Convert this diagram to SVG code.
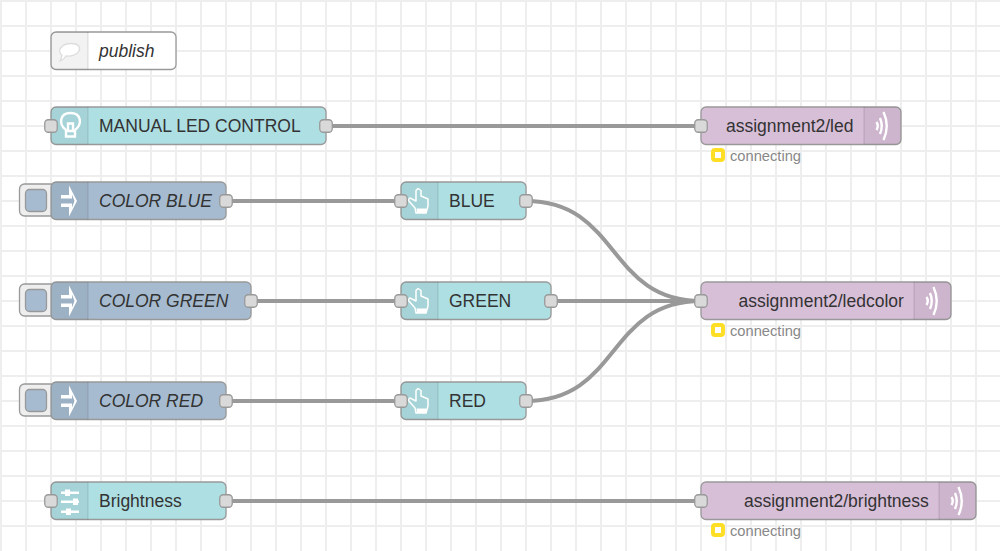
<svg xmlns="http://www.w3.org/2000/svg" width="1000" height="551" viewBox="0 0 1000 551">
<style>
text{font-family:"Liberation Sans",Arial,sans-serif;font-size:17.500px;fill:#333}
.grid{stroke:#eee;stroke-width:2;fill:none}
.wire{stroke:#999;stroke-width:4;fill:none}
.n{stroke:#999;stroke-width:1.3}
.inject{fill:#a6bbcf}.ui{fill:#aedfe3}.mqtt{fill:#d8bfd8}.cmt{fill:#fff}
.shade{fill:#000;fill-opacity:.05}
.sep{stroke:#000;stroke-opacity:.1;stroke-width:1.3}
.port{fill:#d9d9d9;stroke:#999;stroke-width:1.3}
.ic{fill:none;stroke:#fff;stroke-width:1.500;stroke-linejoin:round}
.icb{fill:none;stroke:#fff;stroke-width:2.400}
.icf{fill:#fff}
.st{font-size:14.700px;fill:#888}
.dot{fill:#fff;stroke:#ffdf25;stroke-width:4}
.i{font-style:italic}
.btn{fill:#eee;stroke:#999;stroke-width:1.3}
.btni{fill:#a6bbcf;stroke:#999;stroke-width:1.3}
</style>
<defs>
<g id="hand"><path class="ic" d="M-3,-10.500 L-1,-12.500 L2,-10.500 L2,-5 L9,-2 L9,5 L7,12 L-3,12 L-4,7 L-11,-1 L-9,-3 L-3,0 Z"/><path class="icf" d="M-2.500,7.500 H7.500 V12 H-2 Z"/></g>
<g id="arrow"><path class="icf" d="M-8,-6 H0 V-15.500 L8,0 L0,15.500 V6 H-8 V2.500 H3 V6.500 L5.500,0 L3,-6.500 V-2.500 H-8 Z"/></g>
<g id="wave"><path class="icb" d="M-4.500,-4 Q-2,0 -4.500,4"/><path class="icb" d="M-1,-8 Q2.500,0 -1,8"/><path class="icb" d="M2.500,-14 Q9,0 2.500,14"/></g>
</defs>
<g id="grid" class="grid">
<path d="M1,0V551M26,0V551M51,0V551M76,0V551M101,0V551M126,0V551M151,0V551M176,0V551M201,0V551M226,0V551M251,0V551M276,0V551M301,0V551M326,0V551M351,0V551M376,0V551M401,0V551M426,0V551M451,0V551M476,0V551M501,0V551M526,0V551M551,0V551M576,0V551M601,0V551M626,0V551M651,0V551M676,0V551M701,0V551M726,0V551M751,0V551M776,0V551M801,0V551M826,0V551M851,0V551M876,0V551M901,0V551M926,0V551M951,0V551M976,0V551"/>
<path d="M0,1H1000M0,26H1000M0,51H1000M0,76H1000M0,101H1000M0,126H1000M0,151H1000M0,176H1000M0,201H1000M0,226H1000M0,251H1000M0,276H1000M0,301H1000M0,326H1000M0,351H1000M0,376H1000M0,401H1000M0,426H1000M0,451H1000M0,476H1000M0,501H1000M0,526H1000"/>
</g>
<g id="connectors">
<path class="wire" d="M326,126 H701"/>
<path class="wire" d="M226,201 H401"/>
<path class="wire" d="M251,301 H401"/>
<path class="wire" d="M226,401 H401"/>
<path class="wire" d="M226,501 H701"/>
<path class="wire" d="M526,201 C620,201 607,301 701,301"/>
<path class="wire" d="M551,301 H701"/>
<path class="wire" d="M526,401 C620,401 607,301 701,301"/>
</g>
<g id="comment-publish">
<rect class="n cmt" x="51" y="32" width="125" height="37.500" rx="5"/>
<path class="shade" d="M56,32H88V69.500H56a5,5 0 0 1-5-5V37a5,5 0 0 1 5-5Z"/>
<path class="sep" d="M88,32V69.500"/>
<path fill="#fff" stroke="#ddd" stroke-width="1.300" d="M71,43.500 C78,43.500 81,47 79,51 C77,55 71,56.500 66,56 C64,59 62,60.500 60,61 C61,59 62,57 62,55 C59,53 59,50 61,47.500 C63,45 67,43.500 71,43.500Z"/>
<text class="i" x="99" y="57">publish</text>
</g>
<g id="button-manual">
<rect class="n ui" x="51" y="107" width="275" height="37.500" rx="5"/>
<path class="shade" d="M56,107H88V144.500H56a5,5 0 0 1-5-5V112a5,5 0 0 1 5-5Z"/>
<path class="sep" d="M88,107V144.500"/>
<path class="icb" d="M66,130 C58,124 60,113 70.500,113 C81,113 83,124 75,130 M66,130 V136.500 H75 V130 M68,130 V123.500 H73 V130 M66,131 H75"/>
<rect class="port" x="44.750" y="119.750" width="12.500" height="12.500" rx="3.500"/>
<rect class="port" x="319.750" y="119.750" width="12.500" height="12.500" rx="3.500"/>
<text x="99" y="132">MANUAL LED CONTROL</text>
</g>
<g id="mqtt-led">
<rect class="n mqtt" x="701" y="107" width="200" height="37.500" rx="5"/>
<path class="shade" d="M864,107H896a5,5 0 0 1 5,5V139.500a5,5 0 0 1-5,5H864Z"/>
<path class="sep" d="M864,107V144.500"/>
<use href="#wave" x="881" y="126"/>
<rect class="port" x="694.750" y="119.750" width="12.500" height="12.500" rx="3.500"/>
<text x="726" y="132">assignment2/led</text>
<rect class="dot" x="713" y="150" width="10" height="10" rx="2"/>
<text class="st" x="730" y="161">connecting</text>
</g>
<g id="inject-blue">
<rect class="btn" x="19.500" y="184" width="36" height="32" rx="5"/>
<rect class="btni" x="25.500" y="189.500" width="21" height="22" rx="4"/>
<rect class="n inject" x="51" y="182" width="175" height="37.500" rx="5"/>
<path class="shade" d="M56,182H88V219.500H56a5,5 0 0 1-5-5V187a5,5 0 0 1 5-5Z"/>
<path class="sep" d="M88,182V219.500"/>
<use href="#arrow" x="69" y="201"/>
<rect class="port" x="219.750" y="194.750" width="12.500" height="12.500" rx="3.500"/>
<text class="i" x="99" y="207">COLOR BLUE</text>
</g>
<g id="inject-green">
<rect class="btn" x="19.500" y="284" width="36" height="32" rx="5"/>
<rect class="btni" x="25.500" y="289.500" width="21" height="22" rx="4"/>
<rect class="n inject" x="51" y="282" width="200" height="37.500" rx="5"/>
<path class="shade" d="M56,282H88V319.500H56a5,5 0 0 1-5-5V287a5,5 0 0 1 5-5Z"/>
<path class="sep" d="M88,282V319.500"/>
<use href="#arrow" x="69" y="301"/>
<rect class="port" x="244.750" y="294.750" width="12.500" height="12.500" rx="3.500"/>
<text class="i" x="99" y="307">COLOR GREEN</text>
</g>
<g id="inject-red">
<rect class="btn" x="19.500" y="384" width="36" height="32" rx="5"/>
<rect class="btni" x="25.500" y="389.500" width="21" height="22" rx="4"/>
<rect class="n inject" x="51" y="382" width="175" height="37.500" rx="5"/>
<path class="shade" d="M56,382H88V419.500H56a5,5 0 0 1-5-5V387a5,5 0 0 1 5-5Z"/>
<path class="sep" d="M88,382V419.500"/>
<use href="#arrow" x="69" y="401"/>
<rect class="port" x="219.750" y="394.750" width="12.500" height="12.500" rx="3.500"/>
<text class="i" x="99" y="407">COLOR RED</text>
</g>
<g id="button-blue">
<rect class="n ui" x="401" y="182" width="125" height="37.500" rx="5"/>
<path class="shade" d="M406,182H438V219.500H406a5,5 0 0 1-5-5V187a5,5 0 0 1 5-5Z"/>
<path class="sep" d="M438,182V219.500"/>
<use href="#hand" x="419" y="201"/>
<rect class="port" x="394.750" y="194.750" width="12.500" height="12.500" rx="3.500"/>
<rect class="port" x="519.750" y="194.750" width="12.500" height="12.500" rx="3.500"/>
<text x="449" y="207">BLUE</text>
</g>
<g id="button-green">
<rect class="n ui" x="401" y="282" width="150" height="37.500" rx="5"/>
<path class="shade" d="M406,282H438V319.500H406a5,5 0 0 1-5-5V287a5,5 0 0 1 5-5Z"/>
<path class="sep" d="M438,282V319.500"/>
<use href="#hand" x="419" y="301"/>
<rect class="port" x="394.750" y="294.750" width="12.500" height="12.500" rx="3.500"/>
<rect class="port" x="544.750" y="294.750" width="12.500" height="12.500" rx="3.500"/>
<text x="449" y="307">GREEN</text>
</g>
<g id="button-red">
<rect class="n ui" x="401" y="382" width="125" height="37.500" rx="5"/>
<path class="shade" d="M406,382H438V419.500H406a5,5 0 0 1-5-5V387a5,5 0 0 1 5-5Z"/>
<path class="sep" d="M438,382V419.500"/>
<use href="#hand" x="419" y="401"/>
<rect class="port" x="394.750" y="394.750" width="12.500" height="12.500" rx="3.500"/>
<rect class="port" x="519.750" y="394.750" width="12.500" height="12.500" rx="3.500"/>
<text x="449" y="407">RED</text>
</g>
<g id="mqtt-ledcolor">
<rect class="n mqtt" x="701" y="282" width="250" height="37.500" rx="5"/>
<path class="shade" d="M914,282H946a5,5 0 0 1 5,5V314.500a5,5 0 0 1-5,5H914Z"/>
<path class="sep" d="M914,282V319.500"/>
<use href="#wave" x="931" y="301"/>
<rect class="port" x="694.750" y="294.750" width="12.500" height="12.500" rx="3.500"/>
<text x="738.500" y="307">assignment2/ledcolor</text>
<rect class="dot" x="713" y="325" width="10" height="10" rx="2"/>
<text class="st" x="730" y="336">connecting</text>
</g>
<g id="slider-brightness">
<rect class="n ui" x="51" y="482" width="175" height="37.500" rx="5"/>
<path class="shade" d="M56,482H88V519.500H56a5,5 0 0 1-5-5V487a5,5 0 0 1 5-5Z"/>
<path class="sep" d="M88,482V519.500"/>
<path class="icf" d="M61,491.500H79V494H61ZM61,500.500H79V503H61ZM61,510.500H79V513H61Z M65,489.500h5V496h-5Z M73,498.500h5V505h-5Z M66,508.500h5V515h-5Z"/>
<rect class="port" x="44.750" y="494.750" width="12.500" height="12.500" rx="3.500"/>
<rect class="port" x="219.750" y="494.750" width="12.500" height="12.500" rx="3.500"/>
<text x="99" y="507">Brightness</text>
</g>
<g id="mqtt-brightness">
<rect class="n mqtt" x="701" y="482" width="275" height="37.500" rx="5"/>
<path class="shade" d="M939,482H971a5,5 0 0 1 5,5V514.500a5,5 0 0 1-5,5H939Z"/>
<path class="sep" d="M939,482V519.500"/>
<use href="#wave" x="956" y="501"/>
<rect class="port" x="694.750" y="494.750" width="12.500" height="12.500" rx="3.500"/>
<text x="744" y="507">assignment2/brightness</text>
<rect class="dot" x="713" y="525" width="10" height="10" rx="2"/>
<text class="st" x="730" y="536">connecting</text>
</g>
</svg>
